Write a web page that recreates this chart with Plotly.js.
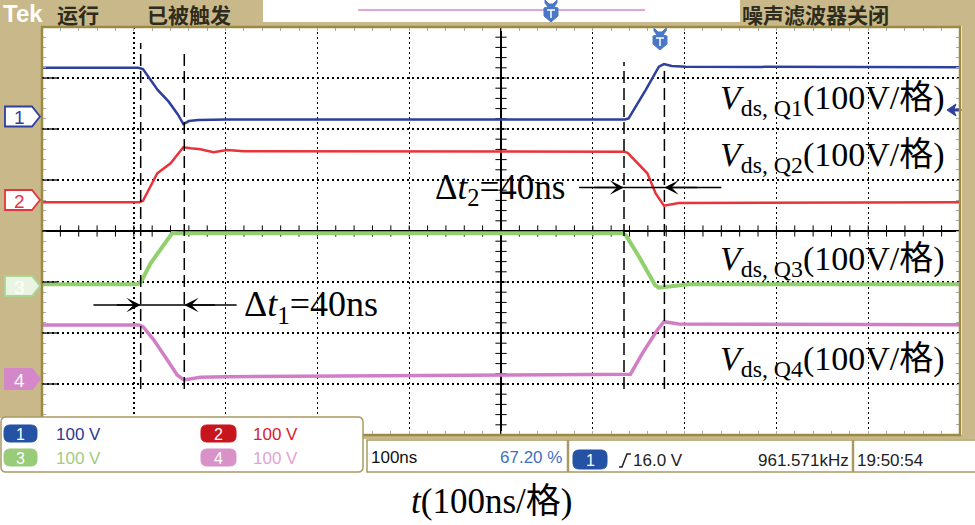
<!DOCTYPE html>
<html><head><meta charset="utf-8">
<script src="https://cdn.plot.ly/plotly-3.0.1.min.js"></script>
<style>html,body{margin:0;padding:0;background:#fff;}#chart{width:975px;height:525px;}</style>
</head><body><div id="chart"></div>
<script>
// ---------------- data (time in ns, drain-source voltage in V) ----------------
const ch1Time = [-500, -395, -390, -374, -362, -352, -346, -340, -330, -300, 135, 139, 157.7, 172, 177.5, 186, 201, 500];
const ch1Volt = [101.5, 101.5, 99, 58, 35, 10, -9, -3, -1, 0, 0, 2, 58, 103.5, 108.8, 105, 103.5, 102.5];
const ch2Time = [-500, -394, -390, -374.4, -359.9, -346.1, -338, -327.4, -313.2, -298.4, -280, 134, 138, 159.4, 168.5, 177.5, 193.8, 500];
const ch2Volt = [0, 0, 3, 56.9, 76.5, 107.9, 106, 104, 98.1, 102.6, 100, 99.3, 97, 56.9, 17.3, -6.6, -1.3, 0];
const ch3Time = [-500, -396, -392, -381.7, -358.1, -350, 132.2, 136, 150.4, 167.8, 172.1, 190.2, 205, 500];
const ch3Volt = [0, 0, 5, 41.2, 100.5, 100, 100, 96, 54.1, -1.4, -6.7, -2.7, 0, 0];
const ch4Time = [-500, -394.4, -390, -378.1, -363.5, -352.7, -345.5, -327.4, -300, 137.7, 141, 154, 170.3, 177.5, 193.8, 500];
const ch4Volt = [101.4, 101.4, 98, 71.9, 32.7, 3.3, -6.5, -1.2, 0, 3.3, 5, 45.9, 91.6, 107.9, 103.3, 102];

const channelLabels = ['Q1', 'Q2', 'Q3', 'Q4'];
const channelScaleText = ['100 V', '100 V', '100 V', '100 V'];
const voltsPerDiv = 100;          // 100 V/格
const chOffsetDiv = [2.186, 0.563, -1.045, -2.857];   // channel ground positions (div)
const cursorDt1 = [-392.5, -345];  // ns
const cursorDt2 = [134, 178];      // ns
const dt1Text = '40ns', dt2Text = '40ns';
const timebaseText = '100ns', triggerPosText = '67.20 %', triggerLevelText = '16.0 V',
      freqText = '961.571kHz', clockText = '19:50:54';

// ---------------- geometry helpers (pixel -> paper) ----------------
const PL = 42, PR = 960, PT = 27, PB = 435;
const px = x => (x - PL) / (PR - PL);
const py = y => (PB - y) / (PB - PT);
const P = (x, y) => px(x).toFixed(5) + ',' + py(y).toFixed(5);
const poly = pts => 'M' + pts.map(p => P(p[0], p[1])).join('L') + 'Z';
function rrect(x0, y0, x1, y1, r) {
  return 'M' + P(x0 + r, y0) + 'L' + P(x1 - r, y0) + 'Q' + P(x1, y0) + ' ' + P(x1, y0 + r) +
    'L' + P(x1, y1 - r) + 'Q' + P(x1, y1) + ' ' + P(x1 - r, y1) +
    'L' + P(x0 + r, y1) + 'Q' + P(x0, y1) + ' ' + P(x0, y1 - r) +
    'L' + P(x0, y0 + r) + 'Q' + P(x0, y0) + ' ' + P(x0 + r, y0) + 'Z';
}
const KHAKI = '#c9b98a', OLIVE = '#9c8a44';
const colors = ['#2f3f9c', '#e8333a', '#92d06e', '#d27ec6'];
const widths = [2.5, 2.5, 4, 3.5];

// ---------------- traces ----------------
const times = [ch1Time, ch2Time, ch3Time, ch4Time];
const volts = [ch1Volt, ch2Volt, ch3Volt, ch4Volt];
const traces = [];
// graticule centre-line ticks
const tx = [], ty = [];
for (let k = -25; k <= 25; k++) tx.push(k * 20);
for (let k = -20; k <= 20; k++) ty.push(k * 0.2);
traces.push({x: tx, y: tx.map(() => 0), mode: 'markers', hoverinfo: 'skip', showlegend: false,
  marker: {symbol: 'line-ns', size: 8, line: {width: 1, color: '#000'}}});
traces.push({x: ty.map(() => 0), y: ty, mode: 'markers', hoverinfo: 'skip', showlegend: false,
  marker: {symbol: 'line-ew', size: 8, line: {width: 1, color: '#000'}}});
for (let c = 0; c < 4; c++) {
  traces.push({x: times[c], y: volts[c].map(v => v / voltsPerDiv + chOffsetDiv[c]),
    mode: 'lines', name: channelLabels[c], showlegend: false,
    line: {color: colors[c], width: widths[c]}});
}

// ---------------- shapes ----------------
const shapes = [];
const rect = (x0, y0, x1, y1, fill, layer) => shapes.push({type: 'rect', xref: 'paper', yref: 'paper',
  x0: px(x0), x1: px(x1), y0: py(y1), y1: py(y0), fillcolor: fill, line: {width: 0}, layer: layer || 'below'});
rect(0, 0, 975, 26, KHAKI);
rect(0, 0, 41, 418, KHAKI);
rect(962, 0, 975, 439, KHAKI);
rect(360, 435, 975, 439, KHAKI);
rect(263, 0, 740, 22, '#ffffff');
// header pink line + trigger markers
shapes.push({type: 'line', xref: 'paper', yref: 'paper', x0: px(358), x1: px(645), y0: py(10), y1: py(10),
  line: {color: '#d58ac8', width: 1.5}});
function trigMarker(cx, top) {
  shapes.push({type: 'path', xref: 'paper', yref: 'paper', layer: 'above', fillcolor: '#4a78c8', line: {color: '#4a78c8', width: 1},
    path: poly([[cx - 6, top], [cx - 2, top + 4], [cx + 2, top + 4], [cx + 6, top], [cx + 6, top + 3], [cx + 3, top + 7],
                [cx + 7, top + 8], [cx + 7, top + 16], [cx, top + 22], [cx - 7, top + 16], [cx - 7, top + 8], [cx - 3, top + 7], [cx - 6, top + 3]])});
  shapes.push({type: 'path', xref: 'paper', yref: 'paper', layer: 'above', fillcolor: 'rgba(0,0,0,0)', line: {color: '#fff', width: 1.5},
    path: 'M' + P(cx - 4, top + 10) + 'L' + P(cx + 4, top + 10) + 'M' + P(cx, top + 10) + 'L' + P(cx, top + 18)});
}
trigMarker(551, 0);
trigMarker(660, 28);
// trigger level arrow (right edge)
shapes.push({type: 'path', xref: 'paper', yref: 'paper', layer: 'above', fillcolor: '#2f3f9c', line: {color: '#2f3f9c', width: 1},
  path: poly([[947, 110], [956, 104], [954, 109], [961, 109], [961, 111], [954, 111], [956, 116]])});
// screen border
shapes.push({type: 'rect', xref: 'paper', yref: 'paper', x0: 0, x1: 1, y0: 0, y1: 1, layer: 'above',
  line: {color: OLIVE, width: 2.5}});
// left edge solid ticks at each division line
for (let d = -3; d <= 3; d++) {
  shapes.push({type: 'line', xref: 'paper', yref: 'y', x0: 0, x1: px(57), y0: d, y1: d, line: {color: '#000', width: 1.2}});
}
// channel ground markers
const markerCenters = [116.5, 200, 286, 379];
const markerFill = ['#ffffff', '#ffffff', '#eaf4e2', '#d487c9'];
const markerLine = [colors[0], colors[1], '#a8d890', '#d487c9'];
for (let c = 0; c < 4; c++) {
  const m = markerCenters[c];
  shapes.push({type: 'path', xref: 'paper', yref: 'paper', layer: 'above', fillcolor: markerFill[c],
    line: {color: markerLine[c], width: 1.8},
    path: poly([[5, m - 10], [32, m - 10], [40, m], [32, m + 10], [5, m + 10]])});
}
// dashed cursors
const cursorTops = [43, 52, 62, 68];
[...cursorDt1, ...cursorDt2].forEach((t, i) => shapes.push({type: 'line', xref: 'x', yref: 'paper', layer: 'above',
  x0: t, x1: t, y0: py(389), y1: py(cursorTops[i]), line: {color: '#000', width: 1.5, dash: '12px,5px'}}));
// delta-t measurement lines
const dt1Y = (231 - 305) / 51, dt2Y = (231 - 187.5) / 51;
shapes.push({type: 'line', xref: 'x', yref: 'y', x0: -444, x1: -288, y0: dt1Y, y1: dt1Y, line: {color: '#000', width: 1.5}, layer: 'above'});
shapes.push({type: 'line', xref: 'x', yref: 'y', x0: 85, x1: 240, y0: dt2Y, y1: dt2Y, line: {color: '#000', width: 1.5}, layer: 'above'});
// readout boxes
shapes.push({type: 'path', xref: 'paper', yref: 'paper', layer: 'above', fillcolor: '#fff', line: {color: '#a99a62', width: 1.5},
  path: rrect(1, 417, 363, 472, 5)});
shapes.push({type: 'rect', xref: 'paper', yref: 'paper', layer: 'above', fillcolor: '#fff', line: {color: '#a99a62', width: 1.5},
  x0: px(367), x1: px(976), y0: py(472), y1: py(440)});
[568, 853].forEach(x => shapes.push({type: 'line', xref: 'paper', yref: 'paper', layer: 'above',
  x0: px(x), x1: px(x), y0: py(472), y1: py(440), line: {color: '#a99a62', width: 2.5}}));
// badges
const badge = (x0, y0, x1, y1, fill) => shapes.push({type: 'path', xref: 'paper', yref: 'paper', layer: 'above',
  fillcolor: fill, line: {color: fill, width: 1}, path: rrect(x0, y0, x1, y1, 6)});
const badgeFill = ['#2452a4', '#c8141c', '#98cc78', '#d892c8'];
badge(4, 425, 37, 442, badgeFill[0]);
badge(201, 425, 236, 442, badgeFill[1]);
badge(4, 449, 37, 466, badgeFill[2]);
badge(201, 449, 236, 466, badgeFill[3]);
badge(573, 450, 607, 469, badgeFill[0]);
// rising edge symbol
shapes.push({type: 'path', xref: 'paper', yref: 'paper', layer: 'above', fillcolor: 'rgba(0,0,0,0)', line: {color: '#222', width: 1.5},
  path: 'M' + P(619, 467) + 'L' + P(622, 467) + 'L' + P(627, 454) + 'L' + P(631, 454)});

// ---------------- annotations ----------------
const anns = [];
const SERIF = '"Liberation Serif", "Times New Roman", "Noto Sans CJK SC", serif';
const SANS = '"Liberation Sans", Arial, sans-serif';
const CJK = '"Noto Sans CJK SC", sans-serif';
function ann(text, x, y, size, color, family, xanchor, extra) {
  anns.push(Object.assign({text: text, xref: 'paper', yref: 'paper', x: px(x), y: py(y), xanchor: xanchor || 'left',
    yanchor: 'middle', showarrow: false, font: {size: size, color: color, family: family}, borderpad: 0}, extra || {}));
}
const hdrFont = {size: 21, color: '#2e2c1c', family: CJK, weight: 'bold'};
ann('<b>Tek</b>', 2, 14, 24, '#ffffff', SANS);
ann('运行', 56, 14, 21, '#2e2c1c', CJK, 'left', {font: hdrFont});
ann('已被触发', 146, 14, 21, '#2e2c1c', CJK, 'left', {font: hdrFont});
ann('噪声滤波器关闭', 741, 14, 21, '#2e2c1c', CJK, 'left', {font: hdrFont});
// channel marker numbers
const markerText = ['#2f3f9c', '#e8333a', '#ffffff', '#ffffff'];
for (let c = 0; c < 4; c++) ann(String(c + 1), 19, markerCenters[c] + 1, 19, markerText[c], SANS, 'center');
// Vds labels
const labelY = [100, 157, 261, 361];
for (let c = 0; c < 4; c++) {
  ann('<i>V</i><sub>ds, ' + channelLabels[c] + '</sub>(100V/格)', 719, labelY[c], 34, '#000', SERIF);
}
ann('Δ<i>t</i><sub>1</sub>=' + dt1Text, 243, 306, 36, '#000', SERIF);
ann('Δ<i>t</i><sub>2</sub>=' + dt2Text, 434, 189, 35, '#000', SERIF);
// arrows
const arrow = (tip, tail, y) => anns.push({x: tip, y: y, ax: tail, ay: y, xref: 'x', yref: 'y', axref: 'x', ayref: 'y',
  text: '', showarrow: true, arrowhead: 3, arrowsize: 1.6, arrowwidth: 1.5, arrowcolor: '#000'});
arrow(cursorDt1[0], -420, dt1Y);
arrow(cursorDt1[1], -310, dt1Y);
arrow(cursorDt2[0], 100, dt2Y);
arrow(cursorDt2[1], 215, dt2Y);
// readouts
const badgeNum = (t, x, y) => ann(t, x, y, 16, '#ffffff', SANS, 'center');
badgeNum('1', 20.5, 434); badgeNum('2', 218.5, 434); badgeNum('3', 20.5, 458); badgeNum('4', 218.5, 458); badgeNum('1', 590, 460);
ann(channelScaleText[0], 55, 434, 17, '#2a3a94', SANS);
ann(channelScaleText[1], 252, 434, 17, '#d8202a', SANS);
ann(channelScaleText[2], 55, 458, 17, '#a0cc84', SANS);
ann(channelScaleText[3], 252, 458, 17, '#e2a2d6', SANS);
ann(timebaseText, 370, 457, 17, '#111', SANS);
ann(triggerPosText, 563, 457, 17, '#3f6fc0', SANS, 'right');
ann(triggerLevelText, 632, 460, 17, '#222', SANS);
ann(freqText, 757, 460, 17, '#222', SANS);
ann(clockText, 856, 460, 17, '#222', SANS);
ann('<i>t</i>(100ns/格)', 491, 501, 35, '#000', SERIF, 'center');

// ---------------- layout ----------------
const layout = {
  width: 975, height: 525,
  margin: {l: PL, r: 975 - PR, t: PT, b: 525 - PB, pad: 0},
  paper_bgcolor: '#ffffff', plot_bgcolor: '#ffffff',
  showlegend: false,
  xaxis: {range: [-500, 500], dtick: 100, tick0: 0, showgrid: true, griddash: '2px,3px', gridcolor: '#000', gridwidth: 1.4,
    zeroline: true, zerolinecolor: '#000', zerolinewidth: 1.2, showticklabels: false, showline: false,
    ticks: 'inside', ticklen: 4, tickcolor: '#aaa', mirror: 'allticks',
    minor: {dtick: 20, ticks: 'inside', ticklen: 4, tickcolor: '#aaa', showgrid: false}, fixedrange: true},
  yaxis: {range: [-4, 4], dtick: 1, tick0: 0, showgrid: true, griddash: '2px,3px', gridcolor: '#000', gridwidth: 1.4,
    zeroline: true, zerolinecolor: '#000', zerolinewidth: 1.2, showticklabels: false, showline: false,
    ticks: 'inside', ticklen: 4, tickcolor: '#aaa', mirror: 'allticks',
    minor: {dtick: 0.2, ticks: 'inside', ticklen: 4, tickcolor: '#aaa', showgrid: false}, fixedrange: true},
  shapes: shapes,
  annotations: anns
};
Plotly.newPlot('chart', traces, layout, {displayModeBar: false, staticPlot: true});
</script></body></html>
